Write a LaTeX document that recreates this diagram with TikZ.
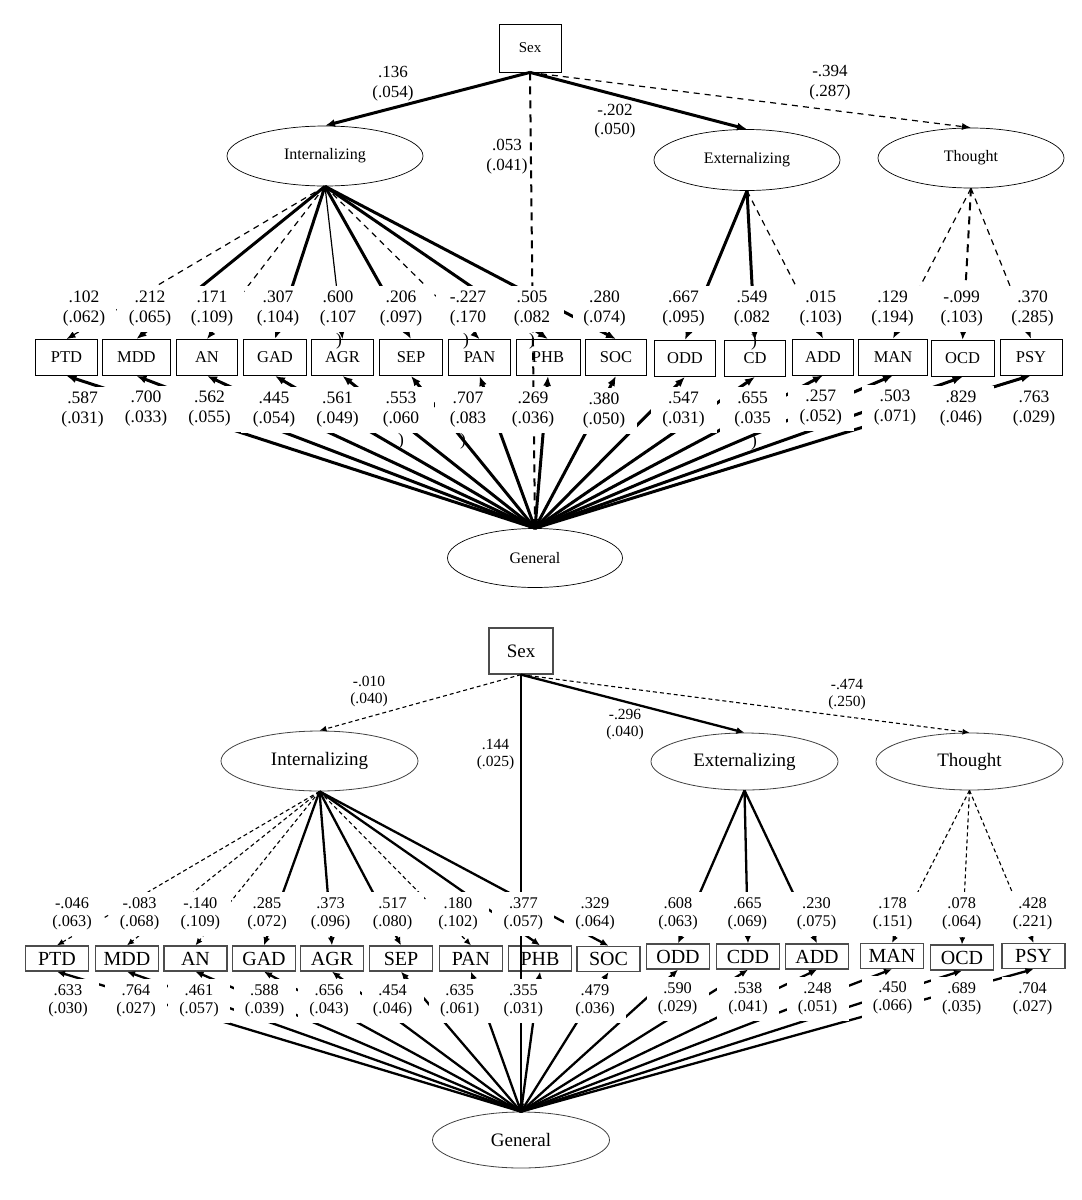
\documentclass[tikz,border=0pt]{standalone}
\usepackage{fontspec}
\setmainfont{Liberation Serif}
\usetikzlibrary{arrows.meta,shapes.geometric}
\begin{document}
\begin{tikzpicture}[x=1pt,y=-1pt,
  boxA/.style={draw,line width=0.8pt,minimum height=36pt,inner sep=0pt,font=\fontsize{16.5}{18}\selectfont},
  boxB/.style={draw=black!70,line width=1.3pt,minimum height=25pt,inner sep=0pt,font=\fontsize{20}{22}\selectfont},
  ellA/.style={ellipse,draw,line width=0.7pt,inner sep=0pt,font=\fontsize{16}{18}\selectfont},
  ellB/.style={ellipse,draw=black!75,line width=0.8pt,inner sep=0pt,font=\fontsize{19}{21}\selectfont},
  labA/.style={fill=white,inner sep=0pt,minimum width=64pt,minimum height=46pt,align=center,font=\fontsize{17.5}{20}\selectfont},
  labAb/.style={labA,minimum width=66pt},
  labB/.style={fill=white,inner sep=0pt,minimum width=62pt,minimum height=44pt,align=center,font=\fontsize{16.3}{17.5}\selectfont},
  pathA/.style={align=center,inner sep=0pt,font=\fontsize{17}{19.5}\selectfont},
  pathB/.style={align=center,inner sep=0pt,font=\fontsize{15.5}{17}\selectfont},
  parA/.style={inner sep=0pt,font=\fontsize{17.5}{20}\selectfont},
  thkA/.style={line width=3pt,-{Latex[length=10pt,width=8pt]}},
  thnA/.style={line width=1.2pt,-{Latex[length=9pt,width=7pt]}},
  dshA/.style={line width=1.2pt,dash pattern=on 6pt off 5pt,-{Latex[length=9pt,width=7pt]}},
  dmdA/.style={line width=2pt,dash pattern=on 8pt off 6pt,-{Latex[length=9pt,width=7pt]}},
  thkB/.style={line width=2.3pt,-{Latex[length=8pt,width=7pt]}},
  dshB/.style={line width=1.1pt,dash pattern=on 4pt off 3pt,-{Latex[length=7pt,width=6pt]}}
]
\useasboundingbox (0,0) rectangle (1082,1200);

% ================= TOP MODEL =================
\node[boxA,minimum width=62pt,minimum height=48pt,font=\fontsize{15}{17}\selectfont] (S1) at (530,48) {Sex};
\node[ellA,minimum width=196pt,minimum height=60pt] (I1) at (325,156) {Internalizing};
\node[ellA,minimum width=186pt,minimum height=61pt] (E1) at (747,160) {Externalizing};
\node[ellA,minimum width=186pt,minimum height=60pt] (T1) at (971,158) {Thought};
\node[ellA,minimum width=175pt,minimum height=59pt] (G1) at (535,558) {General};

\foreach \n/\x/\y/\w in {PTD/66.5/357.5/62, MDD/136.4/357.5/68, AN/207/357.5/61, GAD/275/357.5/63,
  AGR/342.5/357.5/62, SEP/411/357.5/63, PAN/479.5/357.5/62, PHB/548/357.5/64, SOC/616/357.5/61,
  ODD/685/358.5/61, CD/755/358.5/61, ADD/823/357/61, MAN/893/357/69, OCD/962.6/358.5/63, PSY/1031/357/62}
  \node[boxA,minimum width=\w pt] (a\n) at (\x,\y) {\n};

% structural paths
\draw[thkA] (S1.south) -- (I1.north);
\draw[thkA] (S1.south) -- (E1.north);
\draw[dshA] (S1.south) -- (T1.north);
\draw[dmdA] (S1.south) -- (G1.north);

% loadings
\foreach \n/\s in {PTD/dshA, MDD/thkA, AN/dshA, GAD/thkA, AGR/thnA, SEP/thkA, PAN/dshA, PHB/thkA, SOC/thkA}
  \draw[\s] (I1.south) -- (a\n.north);
\foreach \n/\s in {ODD/thkA, CD/thkA, ADD/dshA}
  \draw[\s] (E1.south) -- (a\n.north);
\foreach \n/\s in {MAN/dshA, OCD/dmdA, PSY/dshA}
  \draw[\s] (T1.south) -- (a\n.north);
\foreach \n in {PTD,MDD,AN,GAD,AGR,SEP,PAN,PHB,SOC,ODD,CD,ADD,MAN,OCD,PSY}
  \draw[thkA] (G1.north) -- (a\n.south);

% path labels
\node[pathA] (p1a) at (393,83.5) {.136\\(.054)};
\node[pathA] (p1b) at (507,156.5) {.053\\(.041)};
\node[pathA] (p1c) at (615,121) {-.202\\(.050)};
\node[pathA] (p1d) at (830,82.5) {-.394\\(.287)};

% loading labels (above)
\foreach \n/\x/\t in {PTD/84/{.102\\(.062)}, MDD/150/{.212\\(.065)}, AN/212/{.171\\(.109)}, GAD/278/{.307\\(.104)},
  AGR/338/{.600\\(.107}, SEP/401/{.206\\(.097)}, PAN/468/{-.227\\(.170}, PHB/532/{.505\\(.082},
  SOC/604.5/{.280\\(.074)}, ODD/683.5/{.667\\(.095)}, CD/752/{.549\\(.082}, ADD/820.7/{.015\\(.103)},
  MAN/892.6/{.129\\(.194)}, OCD/961.7/{-.099\\(.103)}, PSY/1032.6/{.370\\(.285)}}
  \node[labA] (la\n) at (\x,309) {\t};
% loading labels (below, general)
\foreach \n/\x/\y/\t in {PTD/82.6/410/{.587\\(.031)}, MDD/146/409/{.700\\(.033)}, AN/209.5/408.5/{.562\\(.055)},
  GAD/274/410/{.445\\(.054)}, AGR/337.5/410/{.561\\(.049)}, SEP/401/410/{.553\\(.060}, PAN/468/410/{.707\\(.083},
  PHB/533/410/{.269\\(.036)}, SOC/604/411/{.380\\(.050)}, ODD/683.5/410/{.547\\(.031)}, CD/752.6/410/{.655\\(.035},
  ADD/820.7/408/{.257\\(.052)}, MAN/895/408/{.503\\(.071)}, OCD/961/409/{.829\\(.046)}, PSY/1034/409/{.763\\(.029)}}
  \node[labAb] (lb\n) at (\x,\y) {\t};
% stray closing brackets
\node[parA] (ra1) at (339,341) {)};
\node[parA] (ra2) at (466,341) {)};
\node[parA] (ra3) at (532,341) {)};
\node[parA] (ra4) at (754,342) {)};
\node[parA] (rb1) at (401,441) {)};
\node[parA] (rb2) at (463,441) {)};
\node[parA] (rb3) at (754,442) {)};

% ================= BOTTOM MODEL =================
\node[boxB,minimum width=64pt,minimum height=46pt,font=\fontsize{19}{21}\selectfont] (S2) at (521,651) {Sex};
\node[ellB,minimum width=197pt,minimum height=60pt] (I2) at (319.5,761) {Internalizing};
\node[ellB,minimum width=187pt,minimum height=57pt] (E2) at (744.5,761.5) {Externalizing};
\node[ellB,minimum width=187pt,minimum height=57pt] (T2) at (969.5,761.5) {Thought};
\node[ellB,minimum width=177pt,minimum height=56pt] (G2) at (521,1140) {General};

\foreach \n/\x/\y in {PTD/57/958.5, MDD/127/958.5, AN/195.5/958.5, GAD/264/958.5, AGR/332/958.5,
  SEP/401/958.5, PAN/471/958.5, PHB/540/958.5, SOC/608.5/959, ODD/678/956.5, CDD/748/956.5,
  ADD/817/956.5, MAN/892/956, OCD/962/957.5, PSY/1033.5/956}
  \node[boxB,minimum width=63pt] (b\n) at (\x,\y) {\n};

\draw[dshB] (S2.south) -- (I2.north);
\draw[thkB] (S2.south) -- (G2.north);
\draw[thkB] (S2.south) -- (E2.north);
\draw[dshB] (S2.south) -- (T2.north);

\foreach \n/\s in {PTD/dshB, MDD/dshB, AN/dshB, GAD/thkB, AGR/thkB, SEP/thkB, PAN/dshB, PHB/thkB, SOC/thkB}
  \draw[\s] (I2.south) -- (b\n.north);
\foreach \n/\s in {ODD/thkB, CDD/thkB, ADD/thkB}
  \draw[\s] (E2.south) -- (b\n.north);
\foreach \n/\s in {MAN/dshB, OCD/dshB, PSY/dshB}
  \draw[\s] (T2.south) -- (b\n.north);
\foreach \n in {PTD,MDD,AN,GAD,AGR,SEP,PAN,PHB,SOC,ODD,CDD,ADD,MAN,OCD,PSY}
  \draw[thkB] (G2.north) -- (b\n.south);

\node[pathB] (p2a) at (369,691.5) {-.010\\(.040)};
\node[pathB] (p2b) at (495.5,754.5) {.144\\(.025)};
\node[pathB] (p2c) at (625,725) {-.296\\(.040)};
\node[pathB] (p2d) at (847,695) {-.474\\(.250)};

\foreach \n/\x/\t in {PTD/72/{-.046\\(.063)}, MDD/139.5/{-.083\\(.068)}, AN/200.4/{-.140\\(.109)}, GAD/267/{.285\\(.072)},
  AGR/330.6/{.373\\(.096)}, SEP/392.6/{.517\\(.080)}, PAN/458/{.180\\(.102)}, PHB/523.4/{.377\\(.057)},
  SOC/595/{.329\\(.064)}, ODD/678/{.608\\(.063)}, CDD/747.4/{.665\\(.069)}, ADD/816.5/{.230\\(.075)},
  MAN/892.6/{.178\\(.151)}, OCD/961.7/{.078\\(.064)}, PSY/1032.6/{.428\\(.221)}}
  \node[labB] (lc\n) at (\x,914) {\t};
\foreach \n/\x/\y/\t in {PTD/68/1001/{.633\\(.030)}, MDD/136/1001/{.764\\(.027)}, AN/199/1001/{.461\\(.057)},
  GAD/264.5/1001/{.588\\(.039)}, AGR/329/1001/{.656\\(.043)}, SEP/392.6/1001/{.454\\(.046)}, PAN/459.7/1001/{.635\\(.061)},
  PHB/523.4/1001/{.355\\(.031)}, SOC/595/1001/{.479\\(.036)}, ODD/677.6/999/{.590\\(.029)}, CDD/748/999/{.538\\(.041)},
  ADD/817.6/999/{.248\\(.051)}, MAN/892.6/998/{.450\\(.066)}, OCD/961.7/999/{.689\\(.035)}, PSY/1032.6/999/{.704\\(.027)}}
  \node[labB] (ld\n) at (\x,\y) {\t};
\end{tikzpicture}
\end{document}
